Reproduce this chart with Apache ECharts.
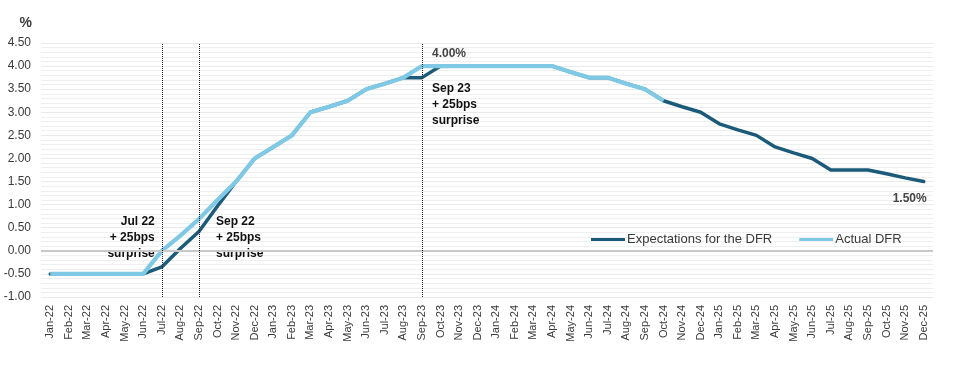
<!DOCTYPE html>
<html>
<head>
<meta charset="utf-8">
<script src="https://cdn.jsdelivr.net/npm/echarts@6/dist/echarts.min.js"></script>
<style>
html,body{margin:0;padding:0;background:#fff;}
#chart{width:959px;height:378px;}
</style>
</head>
<body>
<div id="chart"></div>
<script>
var months = ['Jan-22','Feb-22','Mar-22','Apr-22','May-22','Jun-22','Jul-22','Aug-22','Sep-22','Oct-22','Nov-22','Dec-22',
'Jan-23','Feb-23','Mar-23','Apr-23','May-23','Jun-23','Jul-23','Aug-23','Sep-23','Oct-23','Nov-23','Dec-23',
'Jan-24','Feb-24','Mar-24','Apr-24','May-24','Jun-24','Jul-24','Aug-24','Sep-24','Oct-24','Nov-24','Dec-24',
'Jan-25','Feb-25','Mar-25','Apr-25','May-25','Jun-25','Jul-25','Aug-25','Sep-25','Oct-25','Nov-25','Dec-25'];

var expectations = [-0.5,-0.5,-0.5,-0.5,-0.5,-0.5,-0.35,0.05,0.42,0.97,1.5,2.0,
2.25,2.5,3.0,3.12,3.25,3.5,3.62,3.75,3.75,4.0,4.0,4.0,
4.0,4.0,4.0,4.0,3.87,3.75,3.75,3.62,3.5,3.25,3.12,3.0,
2.75,2.62,2.5,2.25,2.12,2.0,1.75,1.75,1.75,1.67,1.58,1.5];

var actual = [-0.5,-0.5,-0.5,-0.5,-0.5,-0.5,0.0,0.33,0.69,1.1,1.5,2.0,
2.25,2.5,3.0,3.12,3.25,3.5,3.62,3.75,4.0,4.0,4.0,4.0,
4.0,4.0,4.0,4.0,3.87,3.75,3.75,3.62,3.5,3.25,null,null,
null,null,null,null,null,null,null,null,null,null,null,null];

var surpriseMonths = ['Jul-22','Sep-22','Sep-23'];
var yTicks = {min:-1, max:4.5, interval:0.5};

var DARK = '#1c5a7a', LIGHT = '#80c9e4', TXT = '#3a3a3a';
var FONT = '"Liberation Sans", Arial, sans-serif';

var chart = echarts.init(document.getElementById('chart'), null, {renderer:'canvas'});
var option = {
  animation:false,
  textStyle:{fontFamily:FONT},
  grid:{left:41, right:26, top:43, bottom:81},
  legend:{
    left:586, top:228, itemWidth:34, itemHeight:3, itemGap:27, icon:'rect',
    textStyle:{fontFamily:FONT, fontSize:13, color:TXT, padding:[0,0,0,-3]},
    data:['Expectations for the DFR','Actual DFR']
  },
  xAxis:{
    type:'category', data:months, boundaryGap:true,
    axisLine:{show:false}, axisTick:{show:false},
    axisLabel:{rotate:90, fontSize:11, color:TXT, margin:8, interval:0, fontFamily:FONT}
  },
  yAxis:{
    type:'value', min:yTicks.min, max:yTicks.max, interval:yTicks.interval,
    name:'%', nameGap:13,
    nameTextStyle:{fontFamily:FONT, fontSize:14, fontWeight:'bold', color:TXT, align:'right', padding:[0,9,0,0]},
    axisLine:{show:false}, axisTick:{show:false},
    axisLabel:{fontSize:12, color:TXT, margin:10, fontFamily:FONT, formatter:function(v){return v.toFixed(2);}},
    splitLine:{lineStyle:{color:'#eaeaea', width:1}},
    minorTick:{show:false, splitNumber:5},
    minorSplitLine:{show:true, lineStyle:{color:'#efefef', width:1}}
  },
  series:[
    {
      name:'Expectations for the DFR', type:'line', data:expectations,
      symbol:'none', color:DARK,
      lineStyle:{color:DARK, width:3.5, join:'round', cap:'round'},
      markLine:{
        silent:true, symbol:'none', label:{show:false},
        data:[
          {yAxis:0, lineStyle:{color:'#c8c8c8', width:2, type:'solid'}},
          {xAxis:surpriseMonths[0], lineStyle:{color:'#222', width:1, type:'dotted'}},
          {xAxis:surpriseMonths[1], lineStyle:{color:'#222', width:1, type:'dotted'}},
          {xAxis:surpriseMonths[2], lineStyle:{color:'#222', width:1, type:'dotted'}}
        ]
      }
    },
    {
      name:'Actual DFR', type:'line', data:actual,
      symbol:'none', color:LIGHT,
      lineStyle:{color:LIGHT, width:4.2, join:'round', cap:'butt'}
    }
  ]
};
chart.setOption(option);

function px(cat, val){ return chart.convertToPixel({xAxisIndex:0, yAxisIndex:0}, [cat, val]); }

var annStyle = {fontFamily:FONT, fontSize:12, fontWeight:'bold', fill:'#111', lineHeight:16};
var pJul = px('Jul-22', 0.30), pSep = px('Sep-22', 0.30), pSep23 = px('Sep-23', 3.20);
var p4 = px('Sep-23', 4.0), p15 = px('Dec-25', 1.5);

chart.setOption({
  graphic:[
    {type:'text', x:pJul[0]-7, y:pJul[1]+1, style:Object.assign({text:'Jul 22\n+ 25bps\nsurprise', textAlign:'right', textVerticalAlign:'middle'}, annStyle)},
    {type:'text', x:pSep[0]+17, y:pSep[1]+1, style:Object.assign({text:'Sep 22\n+ 25bps\nsurprise', textAlign:'left', textVerticalAlign:'middle'}, annStyle)},
    {type:'text', x:pSep23[0]+10, y:pSep23[1]+2, style:Object.assign({text:'Sep 23\n+ 25bps\nsurprise', textAlign:'left', textVerticalAlign:'middle'}, annStyle)},
    {type:'text', x:p4[0]+10, y:p4[1]-12, style:{text:'4.00%', fontFamily:FONT, fontSize:12, fontWeight:'bold', fill:'#444', textAlign:'left', textVerticalAlign:'middle'}},
    {type:'text', x:p15[0]+3, y:p15[1]+17, style:{text:'1.50%', fontFamily:FONT, fontSize:12, fontWeight:'bold', fill:'#444', textAlign:'right', textVerticalAlign:'middle'}}
  ]
});
</script>
</body>
</html>
